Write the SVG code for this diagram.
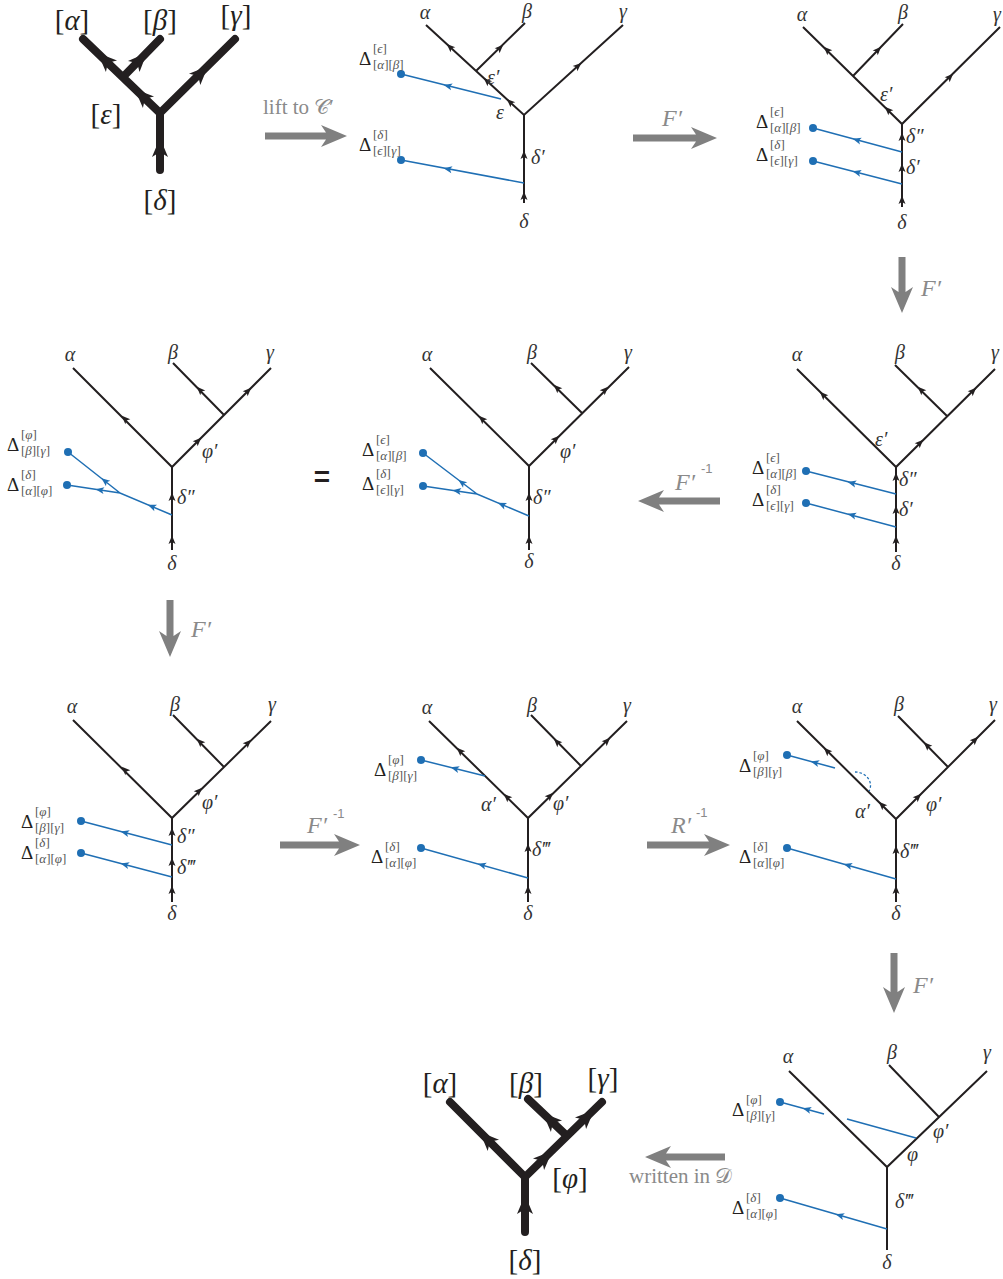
<svg xmlns="http://www.w3.org/2000/svg" xmlns:xlink="http://www.w3.org/1999/xlink" width="1003" height="1279" viewBox="0 0 1003 1279">
<style>
.k{fill:none;stroke:#231f20;stroke-width:2}
.kt{fill:none;stroke:#231f20;stroke-width:8;stroke-linecap:round;stroke-linejoin:round}
.b{fill:none;stroke:#1f6fb4;stroke-width:1.5}
.bdash{fill:none;stroke:#1f6fb4;stroke-width:1.3;stroke-dasharray:2.5 2}
.bd{fill:#1f6fb4}
.ah{fill:#231f20}
.ab{fill:#1f6fb4}
.g{font-family:"Liberation Serif","DejaVu Serif",serif;font-style:italic;font-size:20px;fill:#333}
.m{text-anchor:middle}
.L{font-family:"Liberation Serif","DejaVu Serif",serif;font-size:29px;fill:#231f20;text-anchor:middle}
.D{font-family:"Liberation Serif","DejaVu Serif",serif;font-size:19px;fill:#231f20}
.s{font-family:"Liberation Serif","DejaVu Serif",serif;font-size:13px;fill:#555}
.i{font-style:italic}
.gt{font-family:"Liberation Serif","DejaVu Serif",serif;font-size:21px;fill:#8a8a8a}
.gi{font-family:"Liberation Serif","DejaVu Serif",serif;font-style:italic;font-size:24px;fill:#8a8a8a}
.sup{font-family:"Liberation Sans","DejaVu Sans",sans-serif;font-size:13px;fill:#8a8a8a}
.ga{fill:#808080}
</style>
<defs>
<path id="a" d="M4.5,0 L-4,-3.5 L-2,0 L-4,3.5Z"/>
<path id="A" d="M10,0 L-9,-8 L-4,0 L-9,8Z"/>
</defs>

<g id="connectors">
<path class="ga" d="M265,132.5 H326 L321,125 L347,136 L321,147 L326,139.5 H265 Z"/>
<text class="gt" x="263" y="114">lift to 𝒞′</text>
<path class="ga" d="M633,134.5 H696 L691,127 L717,138 L691,149 L696,141.5 H633 Z"/>
<text class="gi" x="662" y="126">F′</text>
<path class="ga" d="M898.5,257 V292 L891,287 L902,313 L913,287 L905.5,292 V257 Z"/>
<text class="gi" x="921" y="296">F′</text>
<path class="ga" d="M720,497.5 H659 L664,490 L638,501 L664,512 L659,504.5 H720 Z"/>
<text class="gi" x="675" y="490">F′</text><text class="sup" x="701" y="473">-1</text>
<path class="ga" d="M166.5,600 V636 L159,631 L170,657 L181,631 L173.5,636 V600 Z"/>
<text class="gi" x="191" y="637">F′</text>
<path class="ga" d="M280,841.5 H339 L334,834 L360,845 L334,856 L339,848.5 H280 Z"/>
<text class="gi" x="307" y="833">F′</text><text class="sup" x="333" y="818">-1</text>
<path class="ga" d="M647,841.5 H709 L704,834 L730,845 L704,856 L709,848.5 H647 Z"/>
<text class="gi" x="671" y="833">R′</text><text class="sup" x="696" y="817">-1</text>
<path class="ga" d="M890.5,953 V992 L883,987 L894,1013 L905,987 L897.5,992 V953 Z"/>
<text class="gi" x="913" y="993">F′</text>
<path class="ga" d="M725,1153.5 H666 L671,1146 L645,1157 L671,1168 L666,1160.5 H725 Z"/>
<text class="gt" x="629" y="1183">written in 𝒟</text>
</g>

<g id="p1">
<path class="kt" d="M83,39 L160,113 L235,39 M123,77 L160,39 M160,113 L160,170"/>
<use href="#A" class="ah" transform="translate(105,60) rotate(-136)"/>
<use href="#A" class="ah" transform="translate(142,96) rotate(-136)"/>
<use href="#A" class="ah" transform="translate(140,60) rotate(-46)"/>
<use href="#A" class="ah" transform="translate(201,73) rotate(-45)"/>
<use href="#A" class="ah" transform="translate(160,148) rotate(-90)"/>
<text class="L" x="72" y="30">[<tspan class="i">α</tspan>]</text>
<text class="L" x="160" y="30">[<tspan class="i">β</tspan>]</text>
<text class="L" x="236" y="25">[<tspan class="i">γ</tspan>]</text>
<text class="L" x="106" y="124">[<tspan class="i">ε</tspan>]</text>
<text class="L" x="160" y="210">[<tspan class="i">δ</tspan>]</text>
</g>

<g id="p2">
<path class="k" d="M426,25 L524,115 L623,25 M476,71 L525,23 M524,115 L524,203"/>
<use href="#a" class="ah" transform="translate(450,47) rotate(-137)"/>
<use href="#a" class="ah" transform="translate(487,81) rotate(-137)"/>
<use href="#a" class="ah" transform="translate(510,102) rotate(-137)"/>
<use href="#a" class="ah" transform="translate(500,48) rotate(-44)"/>
<use href="#a" class="ah" transform="translate(578,66) rotate(-42)"/>
<use href="#a" class="ah" transform="translate(524,155) rotate(-90)"/>
<use href="#a" class="ah" transform="translate(524,196) rotate(-90)"/>
<path class="b" d="M501,99 L401,74 M524,183 L401,160"/>
<circle class="bd" cx="401" cy="74" r="4"/><circle class="bd" cx="401" cy="160" r="4"/>
<use href="#a" class="ab" transform="translate(448,86) rotate(194)"/>
<use href="#a" class="ab" transform="translate(448,169) rotate(190.6)"/>
<text class="g m" x="425" y="19">α</text><text class="g m" x="527" y="18">β</text><text class="g m" x="623" y="18">γ</text>
<text class="g" x="487" y="84">ε′</text><text class="g" x="496" y="119">ε</text><text class="g" x="531" y="164">δ′</text>
<text class="g m" x="524" y="228">δ</text>
<g transform="translate(359,65)"><text class="D">Δ</text><text class="s" x="14" y="-12">[<tspan class="i">ϵ</tspan>]</text><text class="s" x="14" y="4">[<tspan class="i">α</tspan>][<tspan class="i">β</tspan>]</text></g>
<g transform="translate(359,151)"><text class="D">Δ</text><text class="s" x="14" y="-12">[<tspan class="i">δ</tspan>]</text><text class="s" x="14" y="4">[<tspan class="i">ϵ</tspan>][<tspan class="i">γ</tspan>]</text></g>
</g>

<g id="p3">
<path class="k" d="M803,27 L902,124 L1000,27 M853,76 L903,24 M902,124 L902,207"/>
<use href="#a" class="ah" transform="translate(827,50) rotate(-135.6)"/>
<use href="#a" class="ah" transform="translate(888,110) rotate(-135.6)"/>
<use href="#a" class="ah" transform="translate(878,50) rotate(-46)"/>
<use href="#a" class="ah" transform="translate(950,77) rotate(-44.7)"/>
<use href="#a" class="ah" transform="translate(902,137) rotate(-90)"/>
<use href="#a" class="ah" transform="translate(902,168) rotate(-90)"/>
<use href="#a" class="ah" transform="translate(902,200) rotate(-90)"/>
<path class="b" d="M902,152 L813,128 M902,184 L813,161"/>
<circle class="bd" cx="813" cy="128" r="4"/><circle class="bd" cx="813" cy="161" r="4"/>
<use href="#a" class="ab" transform="translate(857,140) rotate(195)"/>
<use href="#a" class="ab" transform="translate(857,172.4) rotate(194.5)"/>
<text class="g m" x="802" y="21">α</text><text class="g m" x="903" y="19">β</text><text class="g m" x="997" y="21">γ</text>
<text class="g" x="880" y="101">ε′</text><text class="g" x="906" y="143">δ″</text><text class="g" x="906" y="174">δ′</text>
<text class="g m" x="902" y="229">δ</text>
<g transform="translate(756,128)"><text class="D">Δ</text><text class="s" x="14" y="-12">[<tspan class="i">ϵ</tspan>]</text><text class="s" x="14" y="4">[<tspan class="i">α</tspan>][<tspan class="i">β</tspan>]</text></g>
<g transform="translate(756,161)"><text class="D">Δ</text><text class="s" x="14" y="-12">[<tspan class="i">δ</tspan>]</text><text class="s" x="14" y="4">[<tspan class="i">ϵ</tspan>][<tspan class="i">γ</tspan>]</text></g>
</g>

<g id="p4">
<path class="k" d="M73,368 L172,467 L271,368 M224,415 L173,363 M172,467 L172,550"/>
<use href="#a" class="ah" transform="translate(125,419) rotate(-135)"/>
<use href="#a" class="ah" transform="translate(200,390) rotate(-134.4)"/>
<use href="#a" class="ah" transform="translate(248,391) rotate(-45)"/>
<use href="#a" class="ah" transform="translate(198,441) rotate(-45)"/>
<use href="#a" class="ah" transform="translate(172,497) rotate(-90)"/>
<use href="#a" class="ah" transform="translate(172,540) rotate(-90)"/>
<path class="b" d="M68,452 L120,493 M67,485 L120,493 L172,515"/>
<circle class="bd" cx="68" cy="452" r="4"/><circle class="bd" cx="67" cy="485" r="4"/>
<use href="#a" class="ab" transform="translate(105,481) rotate(218.3)"/>
<use href="#a" class="ab" transform="translate(100,490) rotate(188.6)"/>
<use href="#a" class="ab" transform="translate(152,506.5) rotate(202.9)"/>
<text class="g m" x="70" y="361">α</text><text class="g m" x="173" y="359">β</text><text class="g m" x="270" y="359">γ</text>
<text class="g" x="202" y="458">φ′</text><text class="g" x="177" y="504">δ″</text>
<text class="g m" x="172" y="570">δ</text>
<g transform="translate(7,451)"><text class="D">Δ</text><text class="s" x="14" y="-12">[<tspan class="i">φ</tspan>]</text><text class="s" x="14" y="4">[<tspan class="i">β</tspan>][<tspan class="i">γ</tspan>]</text></g>
<g transform="translate(7,491)"><text class="D">Δ</text><text class="s" x="14" y="-12">[<tspan class="i">δ</tspan>]</text><text class="s" x="14" y="4">[<tspan class="i">α</tspan>][<tspan class="i">φ</tspan>]</text></g>
<text x="322" y="486" text-anchor="middle" style="font-family:'Liberation Sans',sans-serif;font-weight:bold;font-size:28px;fill:#231f20">=</text>
</g>

<g id="p5">
<path class="k" d="M430,368 L529,466 L629,367 M582,413 L531,363 M529,466 L529,550"/>
<use href="#a" class="ah" transform="translate(482,419) rotate(-135)"/>
<use href="#a" class="ah" transform="translate(557,388) rotate(-135)"/>
<use href="#a" class="ah" transform="translate(605,390) rotate(-45)"/>
<use href="#a" class="ah" transform="translate(556,439) rotate(-45)"/>
<use href="#a" class="ah" transform="translate(529,497) rotate(-90)"/>
<use href="#a" class="ah" transform="translate(529,540) rotate(-90)"/>
<path class="b" d="M423,453 L477,494 M423,486 L477,494 L529,516"/>
<circle class="bd" cx="423" cy="453" r="4"/><circle class="bd" cx="423" cy="486" r="4"/>
<use href="#a" class="ab" transform="translate(462,482.6) rotate(217.2)"/>
<use href="#a" class="ab" transform="translate(457,491) rotate(188.4)"/>
<use href="#a" class="ab" transform="translate(502,504.6) rotate(202.9)"/>
<text class="g m" x="427" y="361">α</text><text class="g m" x="532" y="359">β</text><text class="g m" x="628" y="359">γ</text>
<text class="g" x="560" y="458">φ′</text><text class="g" x="533" y="504">δ″</text>
<text class="g m" x="529" y="568">δ</text>
<g transform="translate(362,456)"><text class="D">Δ</text><text class="s" x="14" y="-12">[<tspan class="i">ϵ</tspan>]</text><text class="s" x="14" y="4">[<tspan class="i">α</tspan>][<tspan class="i">β</tspan>]</text></g>
<g transform="translate(362,490)"><text class="D">Δ</text><text class="s" x="14" y="-12">[<tspan class="i">δ</tspan>]</text><text class="s" x="14" y="4">[<tspan class="i">ϵ</tspan>][<tspan class="i">γ</tspan>]</text></g>
</g>

<g id="p6">
<path class="k" d="M797,369 L896,467 L995,369 M947,416 L895,365 M896,467 L896,552"/>
<use href="#a" class="ah" transform="translate(823,395) rotate(-135)"/>
<use href="#a" class="ah" transform="translate(921,390) rotate(-135)"/>
<use href="#a" class="ah" transform="translate(973,391) rotate(-45)"/>
<use href="#a" class="ah" transform="translate(920,443) rotate(-45)"/>
<use href="#a" class="ah" transform="translate(896,477) rotate(-90)"/>
<use href="#a" class="ah" transform="translate(896,510) rotate(-90)"/>
<use href="#a" class="ah" transform="translate(896,540) rotate(-90)"/>
<path class="b" d="M896,494 L806,471 M896,527 L806,503"/>
<circle class="bd" cx="806" cy="471" r="4"/><circle class="bd" cx="806" cy="503" r="4"/>
<use href="#a" class="ab" transform="translate(852,483) rotate(194.3)"/>
<use href="#a" class="ab" transform="translate(852,515) rotate(194.9)"/>
<text class="g m" x="797" y="361">α</text><text class="g m" x="900" y="359">β</text><text class="g m" x="995" y="359">γ</text>
<text class="g" x="875" y="446">ε′</text><text class="g" x="899" y="486">δ″</text><text class="g" x="899" y="516">δ′</text>
<text class="g m" x="896" y="570">δ</text>
<g transform="translate(752,474)"><text class="D">Δ</text><text class="s" x="14" y="-12">[<tspan class="i">ϵ</tspan>]</text><text class="s" x="14" y="4">[<tspan class="i">α</tspan>][<tspan class="i">β</tspan>]</text></g>
<g transform="translate(752,506)"><text class="D">Δ</text><text class="s" x="14" y="-12">[<tspan class="i">δ</tspan>]</text><text class="s" x="14" y="4">[<tspan class="i">ϵ</tspan>][<tspan class="i">γ</tspan>]</text></g>
</g>

<g id="p7">
<path class="k" d="M73,720 L172,818 L271,721 M224,767 L173,715 M172,818 L172,902"/>
<use href="#a" class="ah" transform="translate(125,770) rotate(-135)"/>
<use href="#a" class="ah" transform="translate(200,742) rotate(-135)"/>
<use href="#a" class="ah" transform="translate(248,743) rotate(-45)"/>
<use href="#a" class="ah" transform="translate(199,791) rotate(-45)"/>
<use href="#a" class="ah" transform="translate(172,832) rotate(-90)"/>
<use href="#a" class="ah" transform="translate(172,862) rotate(-90)"/>
<use href="#a" class="ah" transform="translate(172,890) rotate(-90)"/>
<path class="b" d="M172,845 L81,821 M172,877 L81,853"/>
<circle class="bd" cx="81" cy="821" r="4"/><circle class="bd" cx="81" cy="853" r="4"/>
<use href="#a" class="ab" transform="translate(125,832.6) rotate(194.8)"/>
<use href="#a" class="ab" transform="translate(125,864.6) rotate(194.8)"/>
<text class="g m" x="72" y="713">α</text><text class="g m" x="175" y="711">β</text><text class="g m" x="272" y="711">γ</text>
<text class="g" x="202" y="809">φ′</text><text class="g" x="177" y="843">δ″</text><text class="g" x="177" y="874">δ‴</text>
<text class="g m" x="172" y="920">δ</text>
<g transform="translate(21,828)"><text class="D">Δ</text><text class="s" x="14" y="-12">[<tspan class="i">φ</tspan>]</text><text class="s" x="14" y="4">[<tspan class="i">β</tspan>][<tspan class="i">γ</tspan>]</text></g>
<g transform="translate(21,859)"><text class="D">Δ</text><text class="s" x="14" y="-12">[<tspan class="i">δ</tspan>]</text><text class="s" x="14" y="4">[<tspan class="i">α</tspan>][<tspan class="i">φ</tspan>]</text></g>
</g>

<g id="p8">
<path class="k" d="M429,721 L528,818 L627,721 M581,766 L531,715 M528,818 L528,902"/>
<use href="#a" class="ah" transform="translate(460,751) rotate(-135)"/>
<use href="#a" class="ah" transform="translate(507,797) rotate(-135)"/>
<use href="#a" class="ah" transform="translate(557,742) rotate(-135)"/>
<use href="#a" class="ah" transform="translate(607,741) rotate(-45)"/>
<use href="#a" class="ah" transform="translate(550,796) rotate(-45)"/>
<use href="#a" class="ah" transform="translate(528,848) rotate(-90)"/>
<use href="#a" class="ah" transform="translate(528,890) rotate(-90)"/>
<path class="b" d="M485,776 L421,760 M528,878 L421,848"/>
<circle class="bd" cx="421" cy="760" r="4"/><circle class="bd" cx="421" cy="848" r="4"/>
<use href="#a" class="ab" transform="translate(455,768.5) rotate(194.9)"/>
<use href="#a" class="ab" transform="translate(482,865) rotate(195.7)"/>
<text class="g m" x="427" y="714">α</text><text class="g m" x="532" y="712">β</text><text class="g m" x="627" y="712">γ</text>
<text class="g" x="481" y="811">α′</text><text class="g" x="553" y="810">φ′</text><text class="g" x="532" y="856">δ‴</text>
<text class="g m" x="528" y="920">δ</text>
<g transform="translate(374,776)"><text class="D">Δ</text><text class="s" x="14" y="-12">[<tspan class="i">φ</tspan>]</text><text class="s" x="14" y="4">[<tspan class="i">β</tspan>][<tspan class="i">γ</tspan>]</text></g>
<g transform="translate(371,863)"><text class="D">Δ</text><text class="s" x="14" y="-12">[<tspan class="i">δ</tspan>]</text><text class="s" x="14" y="4">[<tspan class="i">α</tspan>][<tspan class="i">φ</tspan>]</text></g>
</g>

<g id="p9">
<path class="k" d="M797,721 L896,819 L995,720 M948,767 L898,716 M896,819 L896,902"/>
<use href="#a" class="ah" transform="translate(827,751) rotate(-135)"/>
<use href="#a" class="ah" transform="translate(882,805) rotate(-135)"/>
<use href="#a" class="ah" transform="translate(927,745.5) rotate(-135)"/>
<use href="#a" class="ah" transform="translate(975,740) rotate(-45)"/>
<use href="#a" class="ah" transform="translate(918,797) rotate(-45)"/>
<use href="#a" class="ah" transform="translate(896,850) rotate(-90)"/>
<use href="#a" class="ah" transform="translate(896,890) rotate(-90)"/>
<path class="b" d="M835,768 L787,755 M896,879 L787,848"/>
<path class="bdash" d="M855,772 C866,772 874,782 869,791"/>
<circle class="bd" cx="787" cy="755" r="4"/><circle class="bd" cx="787" cy="848" r="4"/>
<use href="#a" class="ab" transform="translate(815,762.6) rotate(195.2)"/>
<use href="#a" class="ab" transform="translate(848,865.3) rotate(195.9)"/>
<text class="g m" x="797" y="713">α</text><text class="g m" x="899" y="711">β</text><text class="g m" x="993" y="711">γ</text>
<text class="g" x="855" y="818">α′</text><text class="g" x="926" y="811">φ′</text><text class="g" x="900" y="858">δ‴</text>
<text class="g m" x="896" y="920">δ</text>
<g transform="translate(739,772)"><text class="D">Δ</text><text class="s" x="14" y="-12">[<tspan class="i">φ</tspan>]</text><text class="s" x="14" y="4">[<tspan class="i">β</tspan>][<tspan class="i">γ</tspan>]</text></g>
<g transform="translate(739,863)"><text class="D">Δ</text><text class="s" x="14" y="-12">[<tspan class="i">δ</tspan>]</text><text class="s" x="14" y="4">[<tspan class="i">α</tspan>][<tspan class="i">φ</tspan>]</text></g>
</g>

<g id="p10">
<path class="kt" d="M450,1102 L525,1177 L602,1102 M567,1136 L528,1099 M525,1177 L525,1232"/>
<use href="#A" class="ah" transform="translate(487,1139) rotate(-135)"/>
<use href="#A" class="ah" transform="translate(550,1120) rotate(-136)"/>
<use href="#A" class="ah" transform="translate(587,1117) rotate(-44)"/>
<use href="#A" class="ah" transform="translate(545,1158) rotate(-44)"/>
<use href="#A" class="ah" transform="translate(525,1205) rotate(-90)"/>
<text class="L" x="440" y="1093">[<tspan class="i">α</tspan>]</text>
<text class="L" x="526" y="1093">[<tspan class="i">β</tspan>]</text>
<text class="L" x="603" y="1088">[<tspan class="i">γ</tspan>]</text>
<text class="L" x="570" y="1188">[<tspan class="i">φ</tspan>]</text>
<text class="L" x="525" y="1270">[<tspan class="i">δ</tspan>]</text>
</g>

<g id="p11">
<path class="k" d="M789,1071 L887,1167 L987,1071 M939,1117 L889,1065 M887,1167 L887,1250"/>
<path class="b" d="M824,1114 L780,1102 M847,1119 L916,1138 M887,1229 L780,1198"/>
<circle class="bd" cx="780" cy="1102" r="4"/><circle class="bd" cx="780" cy="1198" r="4"/>
<use href="#a" class="ab" transform="translate(807,1109.4) rotate(195.3)"/>
<use href="#a" class="ab" transform="translate(840,1215.4) rotate(196.2)"/>
<text class="g m" x="788" y="1063">α</text><text class="g m" x="892" y="1059">β</text><text class="g m" x="987" y="1059">γ</text>
<text class="g" x="933" y="1138">φ′</text><text class="g" x="907" y="1161">φ</text><text class="g" x="895" y="1208">δ‴</text>
<text class="g m" x="887" y="1269">δ</text>
<g transform="translate(732,1116)"><text class="D">Δ</text><text class="s" x="14" y="-12">[<tspan class="i">φ</tspan>]</text><text class="s" x="14" y="4">[<tspan class="i">β</tspan>][<tspan class="i">γ</tspan>]</text></g>
<g transform="translate(732,1214)"><text class="D">Δ</text><text class="s" x="14" y="-12">[<tspan class="i">δ</tspan>]</text><text class="s" x="14" y="4">[<tspan class="i">α</tspan>][<tspan class="i">φ</tspan>]</text></g>
</g>
</svg>
